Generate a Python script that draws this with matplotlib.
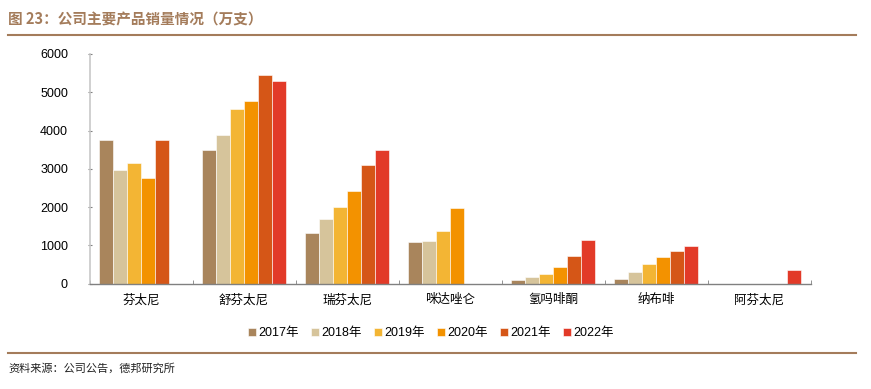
import numpy as np
import matplotlib.pyplot as plt

plt.rcParams['font.family'] = ['Liberation Sans', 'Noto Sans CJK SC', 'DejaVu Sans']

products = ['芬太尼', '舒芬太尼', '瑞芬太尼', '咪达唑仑', '氢吗啡酮', '纳布啡', '阿芬太尼']
years = ['2017年', '2018年', '2019年', '2020年', '2021年', '2022年']

# sales, 10k units; 0 = not shown
s2017 = [3740, 3500, 1320, 1090, 95, 130, 0]
s2018 = [2980, 3890, 1680, 1120, 165, 295, 0]
s2019 = [3150, 4550, 1990, 1360, 260, 520, 0]
s2020 = [2750, 4760, 2420, 1970, 430, 680, 0]
s2021 = [3760, 5440, 3090, 0, 730, 850, 0]
s2022 = [0, 5300, 3490, 0, 1140, 980, 365]

series = [s2017, s2018, s2019, s2020, s2021, s2022]
colors = ['#A9855C', '#D6C49B', '#F3B534', '#F39200', '#D55617', '#E23A28']

title_col = '#A47C5B'
cjk = ['Noto Sans CJK SC', 'DejaVu Sans']

fig = plt.figure(figsize=(8.71, 3.89), dpi=100)
ax = fig.add_axes([89.5 / 871, 1 - 283.5 / 389, 721 / 871, 229.5 / 389])

x = np.arange(len(products))
w = 0.82 / 6
for i, (vals, c) in enumerate(zip(series, colors)):
    ax.bar(x - 0.41 + w * (i + 0.5), vals, width=w, color=c, edgecolor='white',
           linewidth=0.4, label=years[i])

ax.set_xlim(-0.5, len(products) - 0.5)
ax.set_ylim(0, 6000)
ax.set_yticks(range(0, 6001, 1000))
ax.tick_params(axis='y', labelsize=9, length=3, direction='inout', color='#808080', pad=14)
ax.set_xticks(x)
ax.set_xticklabels(products, fontsize=9, family=cjk)
ax.tick_params(axis='x', length=0, pad=7)
ax.set_xticks(np.arange(-0.5, len(products)), minor=True)
ax.tick_params(axis='x', which='minor', length=3, direction='in', color='#808080')

for s in ['top', 'right']:
    ax.spines[s].set_visible(False)
ax.spines['left'].set_color('#C8C8C8')
ax.spines['left'].set_linewidth(1.2)
ax.spines['bottom'].set_color('#808080')
ax.spines['bottom'].set_linewidth(1.0)

ax.legend(loc='upper center', bbox_to_anchor=(431 / 871, 1 - 316 / 389),
          bbox_transform=fig.transFigure, ncol=6, frameon=False, fontsize=9,
          handlelength=0.6, handleheight=0.6, handletextpad=0.2, columnspacing=1.0)

fig.text(8 / 871, 1 - 19 / 389, '图 23：公司主要产品销量情况（万支）', fontsize=10.5,
         color=title_col, fontweight='bold', va='center', family=cjk)
fig.add_artist(plt.Line2D([8 / 871, 856 / 871], [1 - 35 / 389, 1 - 35 / 389],
                          color=title_col, linewidth=1.5))
fig.add_artist(plt.Line2D([8 / 871, 856 / 871], [1 - 353 / 389, 1 - 353 / 389],
                          color=title_col, linewidth=1.5))
fig.text(8 / 871, 1 - 368 / 389, '资料来源：公司公告，德邦研究所', fontsize=8,
         color='#222222', va='center', family=cjk)

fig.savefig('out.png', dpi=100)
